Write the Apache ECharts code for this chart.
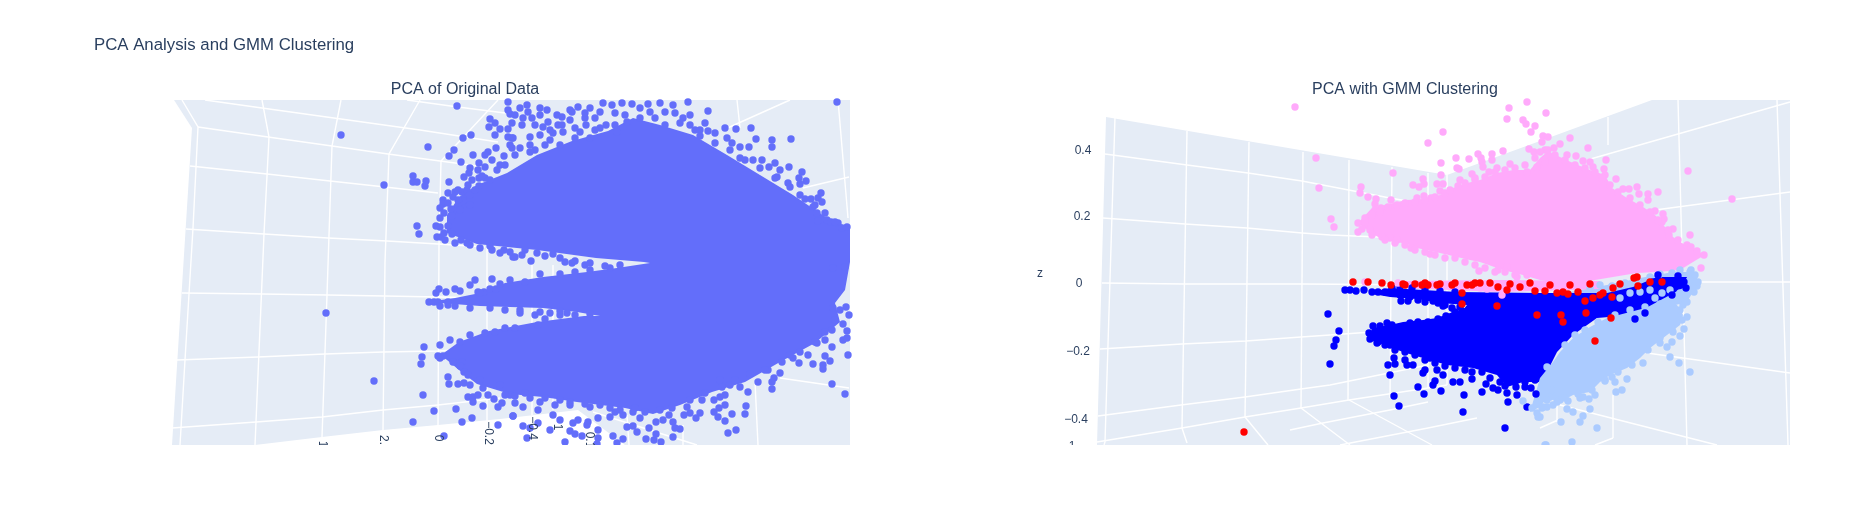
<!DOCTYPE html>
<html><head><meta charset="utf-8">
<style>html,body{margin:0;padding:0;background:#fff}#c{width:1870px;height:525px}</style>
<script src="https://cdn.jsdelivr.net/npm/echarts@6/dist/echarts.min.js"></script>
</head><body><div id="c"></div>
<script>
// All values are projected view coordinates (the 3D scene as seen on screen).
const mainTitle='PCA Analysis and GMM Clustering';
const subTitles=['PCA of Original Data','PCA with GMM Clustering'];
const zTickLabels=['0.4','0.2','0','\u22120.2','\u22120.4','1','z'];
const xTickLabels=['1','2.','0','\u22120.2','\u22120.4','1','0.1'];

const leftWall=[[174,100],[192,128],[172,445],[255,445],[322,437],[383,430],[438,425],[500,419],[578,410],[625,445],[850,445],[850,100]];
const rightWall=[[1106,117],[1447,175],[1652,100],[1790,100],[1790,445],[1097,445]];

const leftGrid=[
[[198,127],[268,137],[332,146],[388,154],[440,161],[485,167]],
[[190,166],[267,174],[330,181],[385,187],[438,193]],
[[186,229],[264,234],[328,238],[387,241],[438,244],[485,247]],
[[182,293],[262,294],[327,295],[385,296],[438,297],[488,298]],
[[177,360],[258,357],[325,354],[383,352],[438,351],[485,348]],
[[172,428],[256,422],[322,417],[383,410],[438,405],[500,398]],
[[205,100],[262,108],[341,119],[420,130],[498,142]],
[[407,100],[458,107],[505,113]],
[[182,100],[198,127],[193,228],[185,360],[180,445]],
[[262,100],[269,137],[264,234],[256,422],[255,445]],
[[341,100],[332,146],[327,295],[322,437]],
[[420,100],[389,154],[385,262],[383,430]],
[[498,100],[441,161],[439,245],[438,425]],
[[487,248],[487,425]],
[[532,263],[532,415]],
[[553,265],[553,410]],
[[737,100],[740,128]],
[[723,130],[790,100]],
[[838,100],[848,218]],
[[849,177],[803,188]],
[[780,378],[849,388]],
[[755,382],[758,445]],
[[627,415],[629,445]],
[[683,425],[683,445]],
[[593,412],[697,445]]
];
const rightGrid=[
[[1105,154],[1187,165],[1248,173],[1302,181],[1390,198],[1430,205]],
[[1103,218],[1185,224],[1247,228],[1302,233],[1330,235],[1428,239]],
[[1102,283],[1183,284],[1247,284],[1302,284],[1440,285]],
[[1700,282],[1790,282]],
[[1100,349],[1182,344],[1246,341],[1301,337],[1330,335],[1428,328]],
[[1098,416],[1181,405],[1245,397],[1301,389],[1330,385],[1428,365]],
[[1097,442],[1182,428],[1245,417],[1301,408],[1349,400],[1428,388],[1447,385]],
[[1115,117],[1105,442],[1104,445]],
[[1187,131],[1182,428]],
[[1249,142],[1245,417]],
[[1303,152],[1301,408]],
[[1349,160],[1348,400]],
[[1392,167],[1390,398]],
[[1428,173],[1428,388]],
[[1447,175],[1447,385]],
[[1301,408],[1350,445]],
[[1349,400],[1432,445]],
[[1245,417],[1268,445]],
[[1182,428],[1187,443]],
[[1290,430],[1323,423],[1390,410],[1428,402]],
[[1340,445],[1428,428],[1477,418]],
[[1587,160],[1790,102]],
[[1655,210],[1790,192]],
[[1647,353],[1790,373]],
[[1560,405],[1717,445]],
[[1608,117],[1608,145]],
[[1678,100],[1687,445]],
[[1777,100],[1788,445]],
[[1613,395],[1613,438]],
[[1613,438],[1595,445]],
[[1540,428],[1558,420]],
[[1557,405],[1557,422]]
];

// dense-cloud silhouettes
const originalCloud=[[447,215],[459,197],[477,185],[507,173],[537,155],[572,141],[608,131],[633,118],[660,125],[693,135],[727,155],[760,175],[793,195],[827,218],[850,228],
[850,262],[845,290],[835,303],[840,322],[815,343],[780,362],[745,382],[712,392],[680,405],[653,414],[625,408],[577,402],[543,397],[510,394],[477,384],[459,370],[441,355],[459,342],[489,331],[537,322],[584,316],[600,316],[577,312],[543,308],[510,307],[480,306],[427,302],[455,298],[485,292],[505,283],[543,277],[587,272],[617,268],[650,263],[644,262],[596,258],[537,250],[477,244],[447,233]];
const blueCloud=[[1372,292],[1390,288],[1457,292],[1540,293],[1573,293],[1607,293],[1633,287],[1657,277],[1687,277],[1683,288],[1657,302],[1633,315],[1597,318],[1573,335],[1557,352],[1547,372],[1543,382],[1523,382],[1507,387],[1497,375],[1473,368],[1447,365],[1423,358],[1403,352],[1390,347],[1370,340],[1372,328],[1390,325],[1403,322],[1423,320],[1437,318],[1450,313],[1463,310],[1467,305],[1440,303],[1417,299],[1390,297],[1373,294]];
const lightBlueBand=[[1570,292],[1607,285],[1640,278],[1673,272],[1697,272],[1697,285],[1687,302],[1657,310],[1607,310],[1570,310]];
const lightBlueCloud=[[1540,378],[1553,362],[1560,352],[1573,338],[1590,327],[1607,318],[1630,312],[1657,305],[1677,305],[1683,315],[1680,325],[1667,335],[1650,348],[1640,358],[1627,368],[1610,375],[1600,382],[1590,392],[1573,395],[1560,402],[1547,398],[1540,407],[1530,412]];
const pinkCloud=[[1358,223],[1371,209],[1380,206],[1407,200],[1423,199],[1440,195],[1453,188],[1467,183],[1480,180],[1497,173],[1513,170],[1530,170],[1540,158],[1547,152],[1550,152],[1560,157],[1573,163],[1590,170],[1605,175],[1612,188],[1627,198],[1643,207],[1655,215],[1665,227],[1673,237],[1685,245],[1700,252],[1703,256],[1693,262],[1680,270],[1657,272],[1637,273],[1607,278],[1583,282],[1557,283],[1540,280],[1523,275],[1503,270],[1480,262],[1470,260],[1440,253],[1417,248],[1407,244],[1397,242],[1380,238],[1371,233]];
const pinkStrip=[[1400,281],[1500,280],[1600,281],[1600,289],[1500,292],[1400,288]];

// individually visible points
const originalPoints=[[457,106],[341,135],[428,147],[463,138],[471,135],[490,119],[495,123],[489,127],[500,129],[495,135],[508,102],[508,110],[510,114],[508,129],[508,137],[512,138],[454,150],[449,156],[461,162],[473,155],[479,163],[496,148],[488,152],[485,155],[485,167],[504,156],[512,148],[413,176],[413,182],[417,182],[426,181],[425,186],[384,185],[449,182],[464,177],[469,173],[472,180],[479,178],[485,178],[479,186],[448,193],[455,192],[453,197],[462,192],[467,190],[463,201],[459,203],[443,200],[443,204],[440,208],[451,209],[444,213],[417,226],[419,234],[437,237],[441,237],[440,227],[444,233],[452,234],[461,240],[467,243],[492,250],[513,257],[504,250],[475,280],[492,279],[436,293],[439,289],[446,292],[455,289],[460,291],[478,292],[484,292],[490,289],[496,289],[429,302],[434,302],[438,302],[448,302],[448,305],[326,313],[424,347],[422,357],[421,364],[438,356],[443,356],[374,381],[448,377],[449,384],[458,384],[464,383],[464,372],[453,362],[462,362],[423,395],[468,397],[473,397],[473,402],[478,395],[483,388],[494,399],[498,407],[502,403],[483,406],[510,395],[434,411],[456,409],[413,422],[472,418],[462,422],[513,416],[498,425],[444,436],
[837,102],[708,111],[751,128],[736,129],[725,128],[756,139],[772,140],[772,147],[791,139],[749,147],[740,147],[732,143],[727,138],[715,133],[708,131],[705,123],[700,130],[690,115],[683,118],[688,102],[673,105],[660,103],[650,112],[603,103],[590,108],[578,107],[570,110],[557,115],[562,117],[547,110],[540,108],[540,115],[527,105],[520,108],[528,112],[523,118],[522,125],[535,125],[543,127],[512,123],[595,118],[585,118],[570,120],[617,132],[600,128],[563,132],[553,133],[530,137],[513,138],[520,148],[550,140],[580,132],[590,138],[535,150],[560,145],[500,165],[490,180],[470,195],[460,210],
[740,158],[753,160],[762,160],[775,163],[769,167],[780,170],[789,167],[802,172],[799,178],[806,181],[800,184],[788,183],[777,177],[821,193],[811,199],[805,199],[818,198],[822,202],[813,207],[817,213],[818,221],[827,220],[838,223],[847,227],[831,222],
[833,268],[845,267],[846,307],[833,308],[849,315],[843,324],[847,331],[832,330],[825,340],[843,340],[847,338],[832,347],[817,343],[825,356],[830,361],[823,365],[823,369],[813,364],[799,363],[793,358],[808,355],[848,355],[832,384],[845,394],[782,362],[780,373],[774,378],[772,382],[772,389],[768,370],[758,382],[748,392],[740,387],[730,385],[722,387],[725,395],[714,400],[720,397],[702,400],[746,406],[745,414],[732,414],[725,405],[719,408],[714,412],[718,417],[725,421],[736,430],[728,433],[700,413],[696,418],[690,413],[684,415],[687,407],[673,422],[680,429],[675,428],[673,437],[661,442],[654,440],[646,439],[656,434],[649,428],[656,422],[663,420],[669,415],[640,418],[633,412],[627,427],[637,432],[633,426],[623,439],[617,443],[613,436],[598,438],[598,430],[597,444],[588,422],[587,425],[578,420],[573,423],[570,431],[575,434],[582,436],[565,442],[550,430],[560,420],[553,415],[538,410],[523,407],[515,403],[513,416],[527,438],[523,426],[538,423],[530,428],[610,417],[598,418],[590,407],[570,405],[560,400],[540,402],[525,393],[615,412],[623,415],
[515,257],[531,261],[537,253],[553,254],[565,262],[572,263],[585,265],[535,315],[550,313],[560,315],[567,313],[538,325],[520,313],[545,319],
[515,115],[532,118],[548,122],[558,125],[572,112],[585,113],[600,112],[612,105],[622,103],[632,104],[640,108],[648,104],[615,113],[625,115],[640,118],[655,118],[665,112],[675,113],[680,123],[665,125],[690,125],[695,130],
[510,145],[530,145],[540,135],[550,130],[562,125],[575,128],[586,125],[595,130],[606,125],[615,125],[627,122],[575,138],[545,145],[530,152],[515,155],[505,165],[497,170],[492,160],[478,170],[470,168],[482,176],[468,185],[458,190],[475,190],[458,200],[448,203],[452,216],[440,218],[436,226],[448,226],[470,205],
[445,240],[455,243],[470,245],[480,248],[490,246],[500,253],[510,252],[522,255],[525,250],[545,256],[560,258],[575,261],[590,263],[605,266],[620,265],
[470,285],[480,293],[500,284],[510,280],[525,282],[540,274],[560,274],[575,272],[590,270],[610,268],[440,306],[455,306],[470,308],[490,308],[505,310],[520,310],[540,312],[560,311],[575,315],[590,314],
[440,345],[450,340],[460,342],[470,335],[485,333],[495,332],[505,328],[515,328],[440,358],[460,366],[468,375],[470,385],[480,380],[488,395],[500,385],[505,395],[515,396],[530,398],[545,398],[555,405],[570,402],[585,404],[600,405],[610,408],[620,410],[635,408],[645,412],[660,410],[672,408],[690,400],[705,393],[720,380],[735,380],[750,374],[765,370],[790,355],[800,352],[815,342],[825,332],[835,320],[840,310],
[700,136],[715,143],[730,150],[745,160],[760,168],[775,178],[790,187],[800,195],[815,205],[825,213],[835,222],[842,228]];

const bluePoints=[[1328,314],[1339,331],[1336,340],[1334,346],[1330,364],[1345,290],[1350,290],[1356,291],[1364,290],[1372,292],[1378,292],[1387,323],[1380,326],[1373,326],[1369,333],[1370,339],[1377,343],[1383,340],[1390,345],[1388,365],[1394,358],[1395,364],[1405,360],[1413,365],[1407,365],[1423,373],[1425,370],[1390,375],[1418,387],[1435,381],[1433,385],[1441,391],[1394,396],[1399,406],[1424,394],[1464,395],[1482,392],[1493,388],[1472,379],[1460,382],[1453,382],[1443,375],[1437,370],[1486,384],[1498,390],[1507,393],[1517,395],[1508,402],[1527,407],[1536,394],[1531,388],[1525,387],[1516,387],[1463,412],[1505,428],[1401,301],[1408,301],[1433,301],[1443,306],
[1378,333],[1385,330],[1392,325],[1400,327],[1410,323],[1418,322],[1428,322],[1438,319],[1446,316],[1455,312],[1462,311],[1378,342],[1385,345],[1395,350],[1405,352],[1415,355],[1425,360],[1435,363],[1445,366],[1455,368],[1465,370],[1472,372],[1482,372],[1490,378],[1500,382],[1505,386],[1515,382],[1525,382],[1535,380],[1420,352],[1430,358],
[1385,292],[1392,293],[1400,295],[1410,297],[1418,300],[1425,302],[1438,303],[1445,305],[1452,308],[1460,307],[1392,288],[1400,287],[1412,288],[1425,290],[1440,291],[1455,292]];
const blueTopPoints=[[1678,276],[1684,282],[1686,288],[1658,275],[1653,282],[1645,313],[1635,319],[1672,295]];
const lightBluePoints=[[1690,372],[1679,363],[1670,357],[1667,347],[1672,342],[1660,343],[1680,336],[1673,332],[1684,329],[1687,317],[1683,305],[1687,302],[1694,292],[1697,286],[1698,282],[1690,280],[1695,275],[1691,270],[1643,363],[1627,379],[1622,390],[1616,392],[1615,382],[1612,377],[1605,381],[1595,395],[1589,399],[1583,397],[1580,398],[1590,409],[1583,416],[1580,422],[1573,412],[1567,409],[1568,401],[1560,400],[1557,402],[1561,422],[1597,428],[1572,442],[1553,405],[1550,397],[1547,407],[1542,408],[1540,417],[1546,445],[1523,401],[1532,408],[1537,413],[1538,417],[1543,407],[1547,400],[1545,445],[1547,367],
[1590,288],[1600,285],[1612,286],[1625,283],[1637,280],[1650,277],[1660,274],[1672,273],[1680,270],[1690,272],[1650,290],[1662,293],[1670,290],[1680,293],[1675,300],[1685,295],[1640,292],[1630,293],[1655,298],[1668,303],[1620,298],
[1565,345],[1575,335],[1585,330],[1598,322],[1615,315],[1630,310],[1645,307],[1660,304],[1672,303],[1680,310],[1682,320],[1672,328],[1660,338],[1648,350],[1632,365],[1618,372],[1605,380],[1592,390],[1578,394],[1565,398],[1552,390]];
const redPoints=[[1353,282],[1368,282],[1382,283],[1391,285],[1403,284],[1405,285],[1415,284],[1422,285],[1425,283],[1428,285],[1437,285],[1440,284],[1452,285],[1455,283],[1467,285],[1472,285],[1498,287],[1507,290],[1520,287],[1535,291],[1545,291],[1462,293],[1497,306],[1537,315],[1462,304],[1557,293],[1563,292],[1568,294],[1578,292],[1585,301],[1593,298],[1600,295],[1603,293],[1612,297],[1613,288],[1620,284],[1637,277],[1634,278],[1638,286],[1650,282],[1561,315],[1563,322],[1586,313],[1595,341],[1611,318],[1662,282],[1244,432],[1480,283],[1510,284],[1530,283],[1475,283],[1490,283],[1550,285],[1570,285],[1590,284]];
const pinkPoints=[[1295,107],[1316,158],[1319,188],[1331,219],[1334,227],[1358,223],[1358,232],[1362,229],[1365,218],[1370,230],[1361,187],[1360,193],[1368,197],[1376,199],[1375,204],[1381,208],[1375,210],[1391,200],[1393,173],[1413,185],[1419,187],[1423,179],[1424,184],[1417,198],[1424,196],[1431,198],[1428,143],[1443,132],[1441,163],[1441,175],[1437,184],[1443,184],[1440,191],[1456,158],[1469,159],[1457,168],[1459,169],[1478,154],[1481,158],[1482,162],[1492,154],[1492,160],[1503,151],[1483,167],[1497,168],[1510,164],[1472,174],[1475,178],[1460,180],[1489,172],[1509,108],[1527,102],[1546,113],[1507,119],[1523,120],[1526,124],[1535,126],[1531,132],[1543,136],[1548,137],[1542,142],[1529,149],[1534,152],[1545,150],[1537,167],[1545,162],[1527,172],[1430,254],[1411,248],[1479,271],[1498,270],[1507,267],[1527,275],[1517,277],[1390,238],[1397,240],[1382,237],[1570,138],[1560,144],[1554,148],[1588,148],[1576,156],[1567,155],[1583,161],[1590,162],[1593,167],[1606,160],[1604,169],[1605,175],[1616,179],[1623,189],[1629,189],[1637,187],[1639,194],[1648,194],[1648,200],[1658,192],[1688,171],[1732,199],[1655,211],[1663,214],[1664,219],[1662,222],[1673,229],[1669,235],[1690,235],[1701,268],[1704,255],[1697,251],[1687,245],[1691,247],
[1365,222],[1372,215],[1380,212],[1388,207],[1397,205],[1405,203],[1415,202],[1425,200],[1435,197],[1445,193],[1450,190],[1458,186],[1465,183],[1475,180],[1485,177],[1495,172],[1505,170],[1515,168],[1525,165],[1535,158],[1540,152],[1548,150],[1555,155],[1565,160],[1575,165],[1585,168],[1595,172],[1602,178],[1610,185],[1618,192],[1630,198],[1640,205],[1650,212],[1658,220],[1668,230],[1678,240],[1372,235],[1385,240],[1395,243],[1405,245],[1415,250],[1425,252],[1435,255],[1445,258],[1455,258],[1465,262],[1475,265],[1485,268],[1495,272],[1505,272],[1515,275]];
const pinkStripPoints=[[1365,282],[1398,283],[1462,287],[1480,288],[1487,289],[1502,295]];

const zLabelPos=[[1083,151],[1082,217],[1079,284],[1078,352],[1076,420],[1072,447],[1040,274]];
const xLabelPos=[[322,444],[383,440],[438,438],[488,433],[532,428],[557,427],[589,440]];

const PANEL=[{x:[172,850],y:[100,445]},{x:[1096,1790],y:[100,445]}];
const TEXT='#2a3f5f', WALL='#E5ECF6', FONT='"Liberation Sans", Arial, sans-serif';
const poly=(pts,color,g)=>({type:'custom',xAxisIndex:g,yAxisIndex:g,clip:true,silent:true,animation:false,
  data:[pts[0]],encode:{x:0,y:1},
  renderItem:(p,api)=>({type:'polygon',shape:{points:pts.map(q=>api.coord(q))},style:{fill:color,stroke:null}})});
const grid=(lines,g)=>({type:'lines',coordinateSystem:'cartesian2d',xAxisIndex:g,yAxisIndex:g,polyline:true,silent:true,animation:false,
  lineStyle:{color:'#fff',width:1.4,opacity:1},data:lines.map(c=>({coords:c}))});
const dots=(pts,color,g)=>({type:'scatter',xAxisIndex:g,yAxisIndex:g,symbolSize:7.4,silent:true,animation:false,
  itemStyle:{color,opacity:1},data:pts});

const labelGraphics=[];
zTickLabels.forEach((t,i)=>labelGraphics.push({type:'text',x:zLabelPos[i][0],y:zLabelPos[i][1],z:50,silent:true,
  style:{text:t,fill:TEXT,font:'12px '+FONT,align:'center',verticalAlign:'middle'}}));
xTickLabels.forEach((t,i)=>labelGraphics.push({type:'text',x:xLabelPos[i][0],y:xLabelPos[i][1],rotation:-Math.PI/2,z:50,silent:true,
  style:{text:t,fill:TEXT,font:'12px '+FONT,align:'center',verticalAlign:'middle'}}));
labelGraphics.push({type:'rect',shape:{x:0,y:445,width:1870,height:80},z:60,silent:true,style:{fill:'#fff'}});

const chart=echarts.init(document.getElementById('c'),null,{renderer:'canvas'});
chart.setOption({
  backgroundColor:'#fff',animation:false,
  title:[
    {text:mainTitle,left:94,top:37,textStyle:{color:TEXT,fontSize:16.8,fontWeight:'normal',fontFamily:FONT},padding:0},
    {text:subTitles[0],left:465,top:81.5,textAlign:'center',textStyle:{color:TEXT,fontSize:16,fontWeight:'normal',fontFamily:FONT},padding:0},
    {text:subTitles[1],left:1405,top:81.5,textAlign:'center',textStyle:{color:TEXT,fontSize:16,fontWeight:'normal',fontFamily:FONT},padding:0}
  ],
  grid:PANEL.map(p=>({left:p.x[0],top:p.y[0],width:p.x[1]-p.x[0],height:p.y[1]-p.y[0],containLabel:false})),
  xAxis:PANEL.map((p,i)=>({type:'value',gridIndex:i,min:p.x[0],max:p.x[1],show:false})),
  yAxis:PANEL.map((p,i)=>({type:'value',gridIndex:i,min:p.y[0],max:p.y[1],inverse:true,show:false})),
  graphic:labelGraphics,
  series:[
    poly(leftWall,WALL,0),grid(leftGrid,0),
    poly(originalCloud,'#636efa',0),dots(originalPoints,'#636efa',0),
    poly(rightWall,WALL,1),grid(rightGrid,1),
    poly(lightBlueBand,'#abcbff',1),
    poly(blueCloud,'#0000ff',1),dots(bluePoints,'#0000ff',1),
    poly(lightBlueCloud,'#abcbff',1),dots(lightBluePoints,'#abcbff',1),dots(blueTopPoints,'#0000ff',1),
    poly(pinkStrip,'#ffaafb',1),dots(pinkStripPoints,'#ffaafb',1),
    dots(redPoints,'#ff0000',1),
    poly(pinkCloud,'#ffaafb',1),dots(pinkPoints,'#ffaafb',1)
  ]
});
</script></body></html>
